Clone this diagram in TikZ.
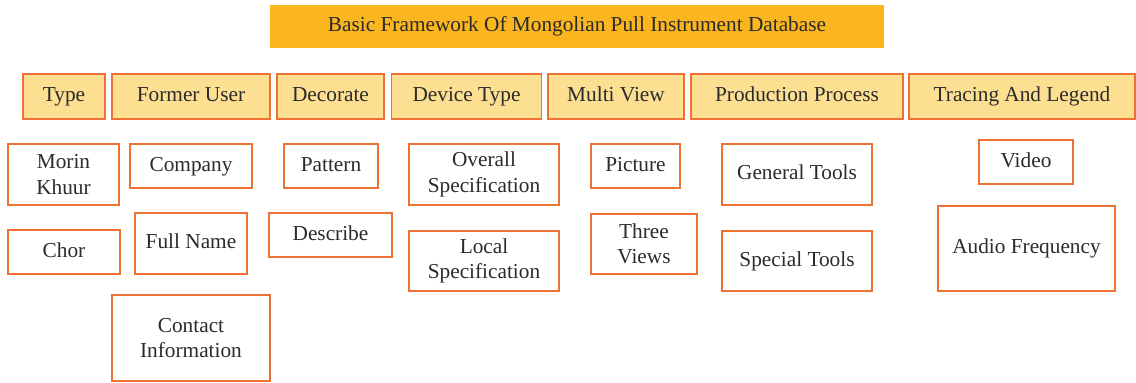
\documentclass[tikz,border=0pt]{standalone}
\usepackage{fontspec}
\setmainfont{Liberation Serif}
\definecolor{titlefill}{HTML}{FBB51E}
\definecolor{headfill}{HTML}{FDDF92}
\definecolor{boxline}{HTML}{EE7234}
\definecolor{txt}{HTML}{2B2B2B}
\tikzset{
  basebox/.style={inner sep=0pt, align=center, text=txt, font=\fontsize{21.3}{25.5}\selectfont},
  oneline/.style={text height=15pt, text depth=4.5pt},
  titlebox/.style={basebox, oneline, fill=titlefill, minimum height=43pt},
  headbox/.style={basebox, oneline, fill=headfill, draw=boxline, line width=1.3pt, minimum height=45pt},
  leafbox/.style={basebox, fill=white, draw=boxline, line width=1.3pt},
}
\begin{document}
\begin{tikzpicture}[x=1pt,y=1pt]
\useasboundingbox (0,0) rectangle (1136,-383);
\node[titlebox, minimum width=614pt] (title) at (577,-26.5) {Basic Framework Of Mongolian Pull Instrument Database};
% header row
\node[headbox, minimum width=82pt]  (type)   at (64,-96.5)   {Type};
\node[headbox, minimum width=158pt] (user)   at (191,-96.5)  {Former User};
\node[headbox, minimum width=107pt] (deco)   at (330.5,-96.5){Decorate};
\node[headbox, minimum width=150pt] (device) at (466.5,-96.5){Device Type};
\node[headbox, minimum width=136pt] (multi)  at (616,-96.5)  {Multi View};
\node[headbox, minimum width=212pt] (prod)   at (797,-96.5)  {Production Process};
\node[headbox, minimum width=226pt] (trace)  at (1022,-96.5) {Tracing And Legend};
% leaves
\node[leafbox, minimum width=111pt, minimum height=61pt] (morin)   at (63.5,-174.5) {Morin\\Khuur};
\node[leafbox, oneline, minimum width=112pt, minimum height=44pt] (chor)    at (64,-252)     {Chor};
\node[leafbox, oneline, minimum width=122pt, minimum height=44pt] (company) at (191,-166)    {Company};
\node[leafbox, oneline, minimum width=112pt, minimum height=61pt] (fullname) at (191,-243.5) {Full Name};
\node[leafbox, minimum width=158pt, minimum height=86pt] (contact) at (191,-338)    {Contact\\Information};
\node[leafbox, oneline, minimum width=94pt,  minimum height=44pt] (pattern) at (331,-166)    {Pattern};
\node[leafbox, oneline, minimum width=123pt, minimum height=44pt] (describe) at (330.5,-235) {Describe};
\node[leafbox, minimum width=150pt, minimum height=61pt] (overall) at (484,-174.5)  {Overall\\Specification};
\node[leafbox, minimum width=150pt, minimum height=60pt] (local)   at (484,-261)    {Local\\Specification};
\node[leafbox, oneline, minimum width=89pt,  minimum height=44pt] (picture) at (635.5,-166)  {Picture};
\node[leafbox, minimum width=106pt, minimum height=60pt] (three)   at (644,-244)    {Three\\Views};
\node[leafbox, oneline, minimum width=150pt, minimum height=61pt] (general) at (797,-174.5)  {General Tools};
\node[leafbox, oneline, minimum width=150pt, minimum height=60pt] (special) at (797,-261)    {Special Tools};
\node[leafbox, oneline, minimum width=94pt,  minimum height=44pt] (video)   at (1026,-162)   {Video};
\node[leafbox, oneline, minimum width=177pt, minimum height=85pt] (audio)   at (1026.5,-248.5) {Audio Frequency};
\end{tikzpicture}
\end{document}
